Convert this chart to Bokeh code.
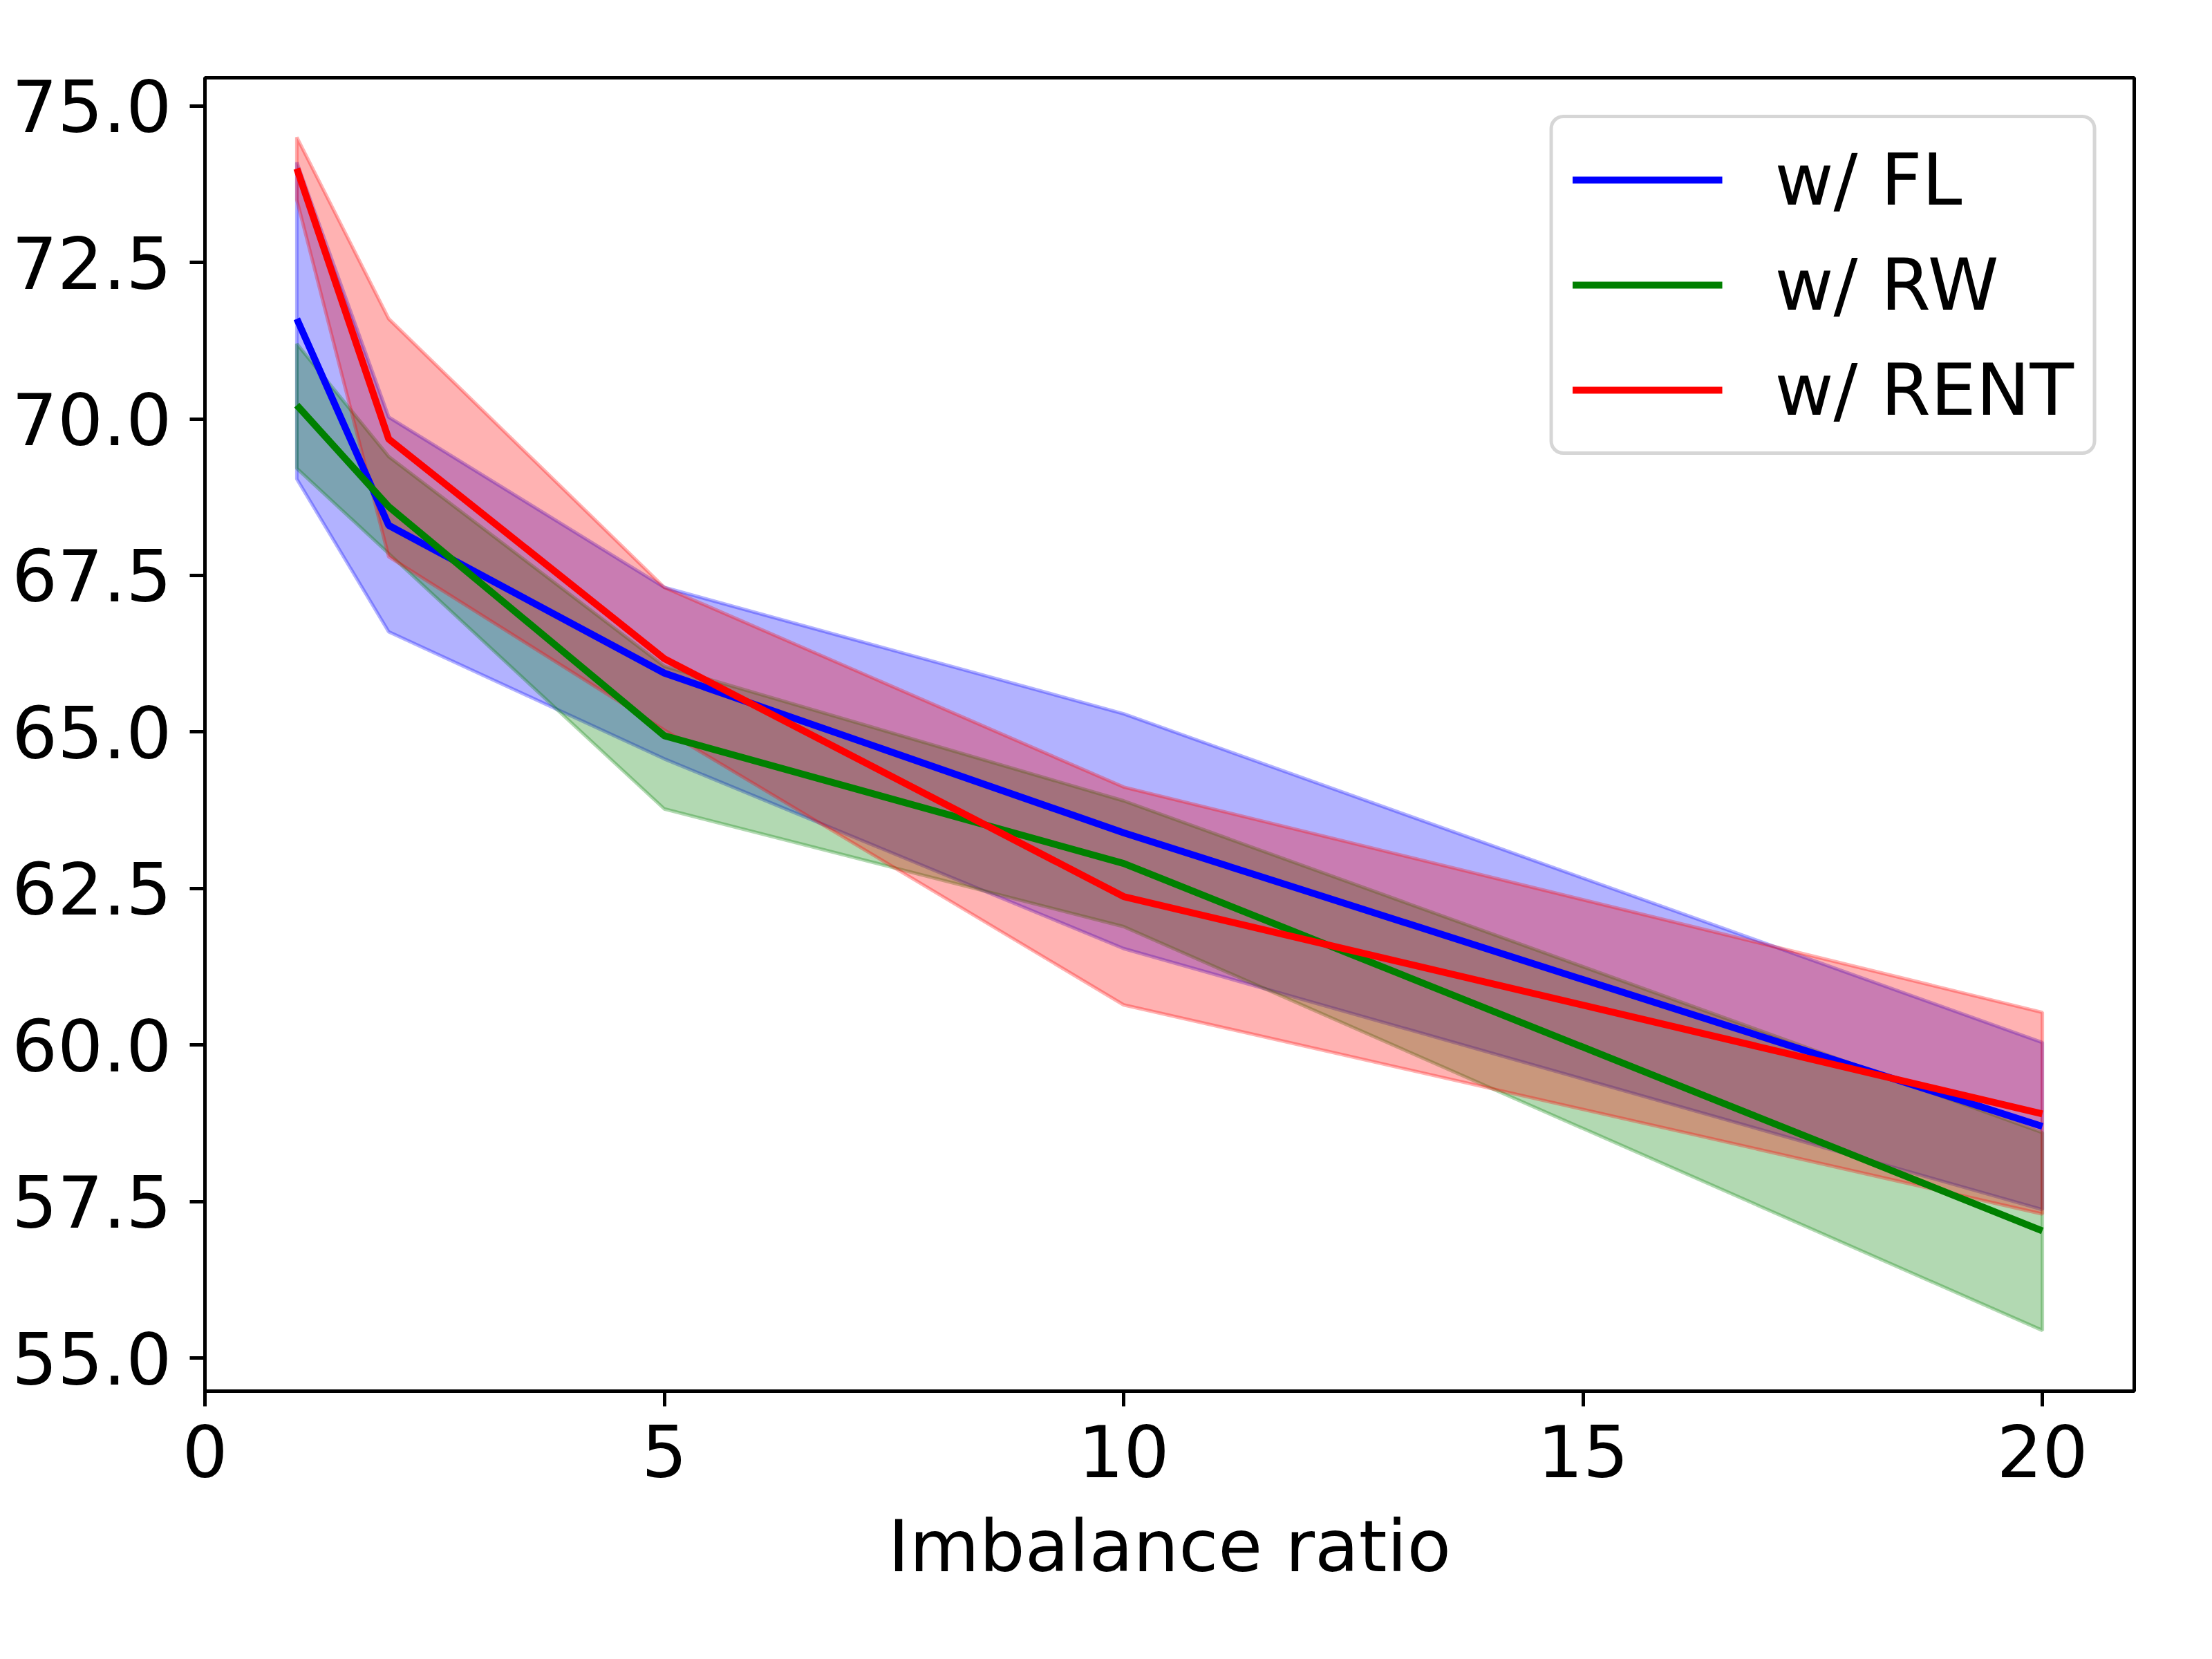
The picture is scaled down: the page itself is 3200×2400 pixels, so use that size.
from bokeh.plotting import figure
from bokeh.models import Range1d, FixedTicker, NumeralTickFormatter
from bokeh.embed import file_html
from bokeh.resources import INLINE

# ---- data ----
ratios = [1, 2, 5, 10, 20]

fl_mean = [71.6, 68.3, 65.94, 63.39, 58.7]
fl_upper = [74.1, 70.03, 67.31, 65.29, 60.04]
fl_lower = [69.04, 66.6, 64.57, 61.54, 57.37]

rw_mean = [70.22, 68.6, 64.94, 62.9, 57.03]
rw_upper = [71.2, 69.4, 66.05, 63.9, 58.6]
rw_lower = [69.21, 67.85, 63.77, 61.89, 55.44]

rent_mean = [74.0, 69.68, 66.17, 62.37, 58.9]
rent_upper = [74.5, 71.6, 67.31, 64.12, 60.52]
rent_lower = [73.5, 67.8, 65.03, 60.64, 57.3]

series = [
    ("w/ FL", "blue", fl_mean, fl_upper, fl_lower),
    ("w/ RW", "green", rw_mean, rw_upper, rw_lower),
    ("w/ RENT", "red", rent_mean, rent_upper, rent_lower),
]

x_ticks = [0, 5, 10, 15, 20]
y_ticks = [55.0, 57.5, 60.0, 62.5, 65.0, 67.5, 70.0, 72.5, 75.0]

FONT = "DejaVu Sans"
FS = "104px"

p = figure(width=3184, height=2384, output_backend="svg", toolbar_location=None,
           x_range=Range1d(0, 21.0), y_range=Range1d(54.47, 75.45),
           min_border_left=296, min_border_right=97, min_border_top=112,
           min_border_bottom=372)

p.xgrid.visible = False
p.ygrid.visible = False
p.outline_line_color = "black"
p.outline_line_width = 5
p.background_fill_color = "white"
p.border_fill_color = "white"

# bands first
for name, col, m, up, lo in series:
    xs = list(ratios) + list(reversed(ratios))
    ys = list(up) + list(reversed(lo))
    p.patch(xs, ys, fill_color=col, fill_alpha=0.3, line_color=col,
            line_alpha=0.3, line_width=5)

# mean lines on top
for name, col, m, up, lo in series:
    p.line(ratios, m, line_color=col, line_width=10, legend_label=name)

for ax in (p.xaxis[0], p.yaxis[0]):
    ax.axis_line_width = 5
    ax.major_tick_line_width = 5
    ax.major_tick_out = 22
    ax.major_tick_in = 0
    ax.minor_tick_out = 0
    ax.minor_tick_in = 0
    ax.major_label_text_font = FONT
    ax.major_label_text_font_size = FS
    ax.major_label_text_color = "black"
    ax.major_label_standoff = 26

p.xaxis.ticker = FixedTicker(ticks=x_ticks)
p.yaxis.ticker = FixedTicker(ticks=y_ticks)
p.yaxis.formatter = NumeralTickFormatter(format="0.0")
p.xaxis.axis_label = "Imbalance ratio"
p.xaxis.axis_label_text_font = FONT
p.xaxis.axis_label_text_font_size = FS
p.xaxis.axis_label_text_font_style = "normal"
p.xaxis.axis_label_text_color = "black"
p.xaxis.axis_label_standoff = 36

lg = p.legend[0]
lg.location = "top_right"
lg.margin = 54
lg.padding = 28
lg.spacing = 30
lg.glyph_width = 217
lg.glyph_height = 60
lg.label_standoff = 76
lg.label_text_font = FONT
lg.label_text_font_size = FS
lg.label_text_color = "black"
lg.border_line_color = "#cccccc"
lg.border_line_width = 5
lg.border_line_alpha = 0.8
lg.background_fill_alpha = 0.8
if "border_radius" in lg.properties():
    lg.border_radius = 20

open("out.html", "w").write(file_html(p, INLINE))
